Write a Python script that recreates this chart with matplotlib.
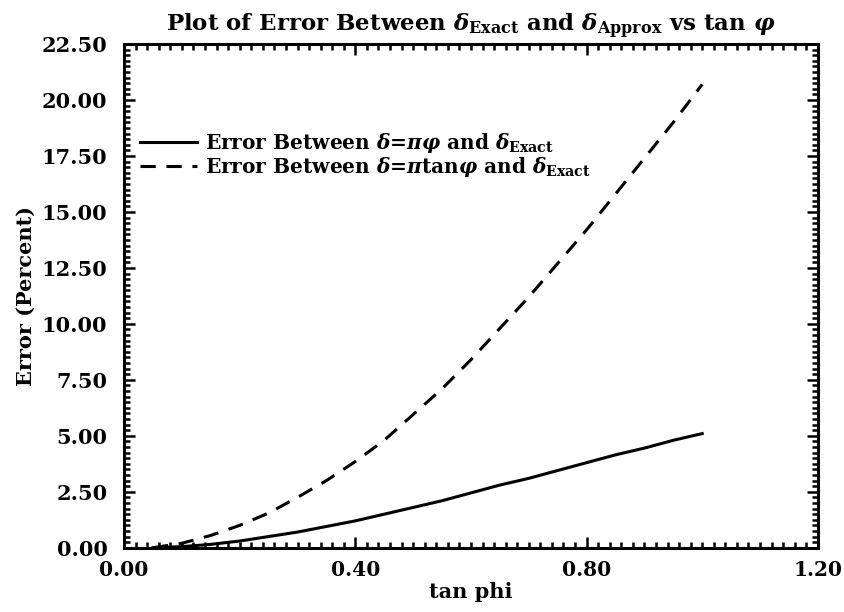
import numpy as np
import matplotlib
matplotlib.use('Agg')
import matplotlib.pyplot as plt
from matplotlib.ticker import MultipleLocator, FormatStrFormatter

# values
tan_phi = [0.05, 0.10, 0.15, 0.20, 0.25, 0.30, 0.35, 0.40, 0.45, 0.50,
           0.55, 0.60, 0.65, 0.70, 0.75, 0.80, 0.85, 0.90, 0.95, 1.00]
err_pi_phi = [0.0, 0.05, 0.15, 0.3, 0.5, 0.7, 0.95, 1.2, 1.5, 1.8,
              2.1, 2.45, 2.8, 3.1, 3.45, 3.8, 4.15, 4.45, 4.8, 5.1]
err_pi_tan = [0.0, 0.2, 0.55, 1.0, 1.55, 2.25, 3.0, 3.85, 4.8, 5.95,
              7.1, 8.4, 9.8, 11.2, 12.7, 14.2, 15.8, 17.4, 19.0, 20.7]

plt.rcParams['font.family'] = ['DejaVu Serif']
plt.rcParams['font.weight'] = 'bold'
plt.rcParams['mathtext.fontset'] = 'custom'
plt.rcParams['mathtext.rm'] = 'DejaVu Serif:bold'
plt.rcParams['mathtext.it'] = 'DejaVu Serif:italic:bold'
plt.rcParams['mathtext.bf'] = 'DejaVu Serif:bold'

fig = plt.figure(figsize=(8.44, 6.12), dpi=100)
ax = fig.add_axes([0.147, 0.105, 0.822, 0.823])

ax.plot(tan_phi, err_pi_phi, 'k-', lw=2.2,
        label=r'Error Between $\delta$=$\pi\varphi$ and $\delta_{\rm Exact}$')
ax.plot(tan_phi, err_pi_tan, 'k--', lw=2.2, dashes=(5, 3.5),
        label=r'Error Between $\delta$=$\pi$tan$\varphi$ and $\delta_{\rm Exact}$')

ax.set_xlim(0, 1.2)
ax.set_ylim(0, 22.5)
ax.xaxis.set_major_locator(MultipleLocator(0.4))
ax.xaxis.set_minor_locator(MultipleLocator(0.02))
ax.yaxis.set_major_locator(MultipleLocator(2.5))
ax.yaxis.set_minor_locator(MultipleLocator(0.25))
ax.xaxis.set_major_formatter(FormatStrFormatter('%.2f'))
ax.yaxis.set_major_formatter(FormatStrFormatter('%.2f'))
ax.tick_params(which='both', direction='in', top=True, right=True,
               width=1.8, labelsize=15)
ax.tick_params(axis='x', labelsize=14.5)
ax.tick_params(axis='y', which='major', length=8, pad=12)
ax.tick_params(axis='x', which='major', length=8, pad=9)
ax.tick_params(which='minor', length=4.5)
for s in ax.spines.values():
    s.set_linewidth(2.2)

ax.set_xlabel('tan phi', fontsize=15, fontweight='bold', labelpad=1)
ax.set_ylabel('Error (Percent)', fontsize=15, fontweight='bold', labelpad=4)
ax.set_title(r'Plot of Error Between $\delta_{\rm Exact}$ and $\delta_{\rm Approx}$ vs tan $\varphi$',
             fontsize=16.5, fontweight='bold', pad=9)

ax.legend(loc='upper left', bbox_to_anchor=(0.0, 0.86), frameon=False,
          fontsize=14.5, handlelength=2.8, handletextpad=0.4, labelspacing=0.0,
          borderaxespad=0.4)

fig.savefig('out.png', dpi=100)
